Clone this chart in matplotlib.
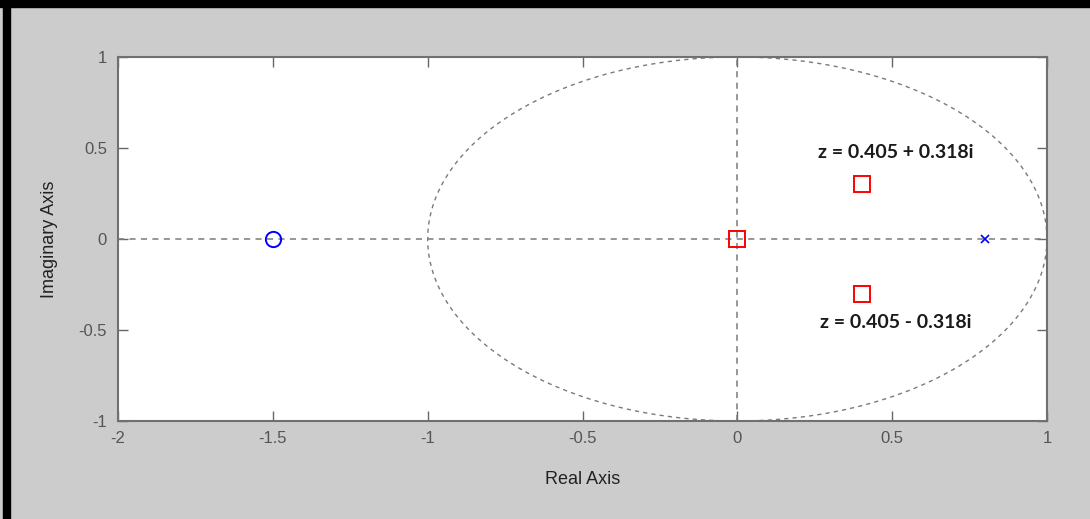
import numpy as np
import matplotlib
matplotlib.use("Agg")
import matplotlib.pyplot as plt
from matplotlib.patches import Rectangle

# ---------- data ----------
zeros_re = [-1.5]
zeros_im = [0.0]
poles_re = [0.8]
poles_im = [0.0]
marked_re = [0.0, 0.403, 0.403]
marked_im = [0.0, 0.30, -0.30]
notes = ["z = 0.405 + 0.318i", "z = 0.405 - 0.318i"]
note_pos = [(0.51, 0.475), (0.51, -0.46)]
xticks = [-2, -1.5, -1, -0.5, 0, 0.5, 1]
yticks = [-1, -0.5, 0, 0.5, 1]
# ---------------------------

plt.rcParams["font.family"] = ["Liberation Sans", "DejaVu Sans"]

bg = "#cccccc"
grid_c = "#7a7a7a"
tick_c = "#555555"

fig = plt.figure(figsize=(10.9, 5.19), dpi=100, facecolor=bg)
ax = fig.add_axes([118 / 1090, 1 - 421 / 519, (1047 - 118) / 1090, (421 - 57) / 519])

theta = np.linspace(0, 2 * np.pi, 400)
ax.plot(np.cos(theta), np.sin(theta), ls=(0, (3, 3)), color=grid_c, lw=1.0)
ax.axhline(0, ls=(0, (4, 3.5)), color=grid_c, lw=1.1)
ax.axvline(0, ls=(0, (4, 3.5)), color=grid_c, lw=1.1)

ax.plot(zeros_re, zeros_im, "o", mfc="none", mec="blue", ms=11, mew=1.4)
ax.plot(poles_re, poles_im, "x", color="blue", ms=6, mew=1.2)
ax.plot(marked_re, marked_im, "s", mfc="none", mec="red", ms=12, mew=1.4)

for txt, (px, py) in zip(notes, note_pos):
    ax.text(px, py, txt, ha="center", va="center", fontsize=14,
            fontweight="bold", color="#1a1a1a", family="Lato")

ax.set_xlim(-2, 1)
ax.set_ylim(-1, 1)
ax.set_xticks(xticks)
ax.set_yticks(yticks)
ax.set_xticklabels([f"{t:g}" for t in xticks])
ax.set_yticklabels([f"{t:g}" for t in yticks])
ax.tick_params(direction="in", top=True, right=True, length=7, width=1,
               color="#666666", labelcolor=tick_c, labelsize=12)
ax.tick_params(axis="x", pad=7)
ax.tick_params(axis="y", pad=8)
for s in ax.spines.values():
    s.set_color("#707070")
    s.set_linewidth(1.5)

ax.set_xlabel("Real Axis", fontsize=13, color="#222222", labelpad=18)
ax.set_ylabel("Imaginary Axis", fontsize=13, color="#222222", labelpad=15)

# window frame edges
fig.patches.append(Rectangle((3 / 1090, 0), 7 / 1090, 1, transform=fig.transFigure,
                             color="black", zorder=-1))
fig.patches.append(Rectangle((0, 1 - 7 / 519), 1, 7 / 519, transform=fig.transFigure,
                             color="black", zorder=-1))

fig.savefig("out.png", dpi=100, facecolor=bg)
